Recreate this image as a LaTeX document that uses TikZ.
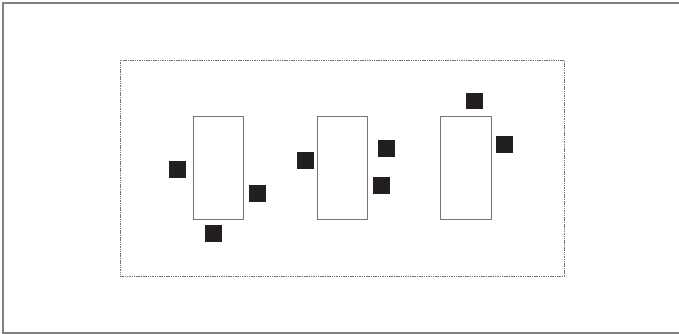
\documentclass[tikz,border=0pt]{standalone}
\definecolor{pinfill}{RGB}{35,31,32}
\begin{document}
\begin{tikzpicture}[x=1pt,y=-1pt,
  frame/.style={draw=black!50,line width=1.4pt},
  region/.style={draw=black!55,line width=0.9pt,dash pattern=on 1.5pt off 0.8pt},
  part/.style={draw=black!55,line width=0.9pt,fill=white,inner sep=0pt,minimum width=50.5pt,minimum height=102.5pt},
  pin/.style={fill=pinfill,draw=none,inner sep=0pt,minimum size=16.7pt}]
\useasboundingbox (0,0) rectangle (679,334);
\draw[frame] (679,3) -- (3,3) -- (3,333) -- (679,333);
\node[region,minimum width=444pt,minimum height=216pt,inner sep=0pt] (reg) at (342,168) {};
\node[part] (b1) at (218.3,168) {};
\node[part] (b2) at (342.2,168) {};
\node[part] (b3) at (465.8,168) {};
\node[pin] (p1a) at (177.3,169.3) {};
\node[pin] (p1b) at (257.3,193.3) {};
\node[pin] (p1c) at (213.3,233.3) {};
\node[pin] (p2a) at (305.3,160.2) {};
\node[pin] (p2b) at (386.3,148.3) {};
\node[pin] (p2c) at (381.3,185.3) {};
\node[pin] (p3a) at (474.3,101) {};
\node[pin] (p3b) at (504.3,144.3) {};
\end{tikzpicture}
\end{document}
